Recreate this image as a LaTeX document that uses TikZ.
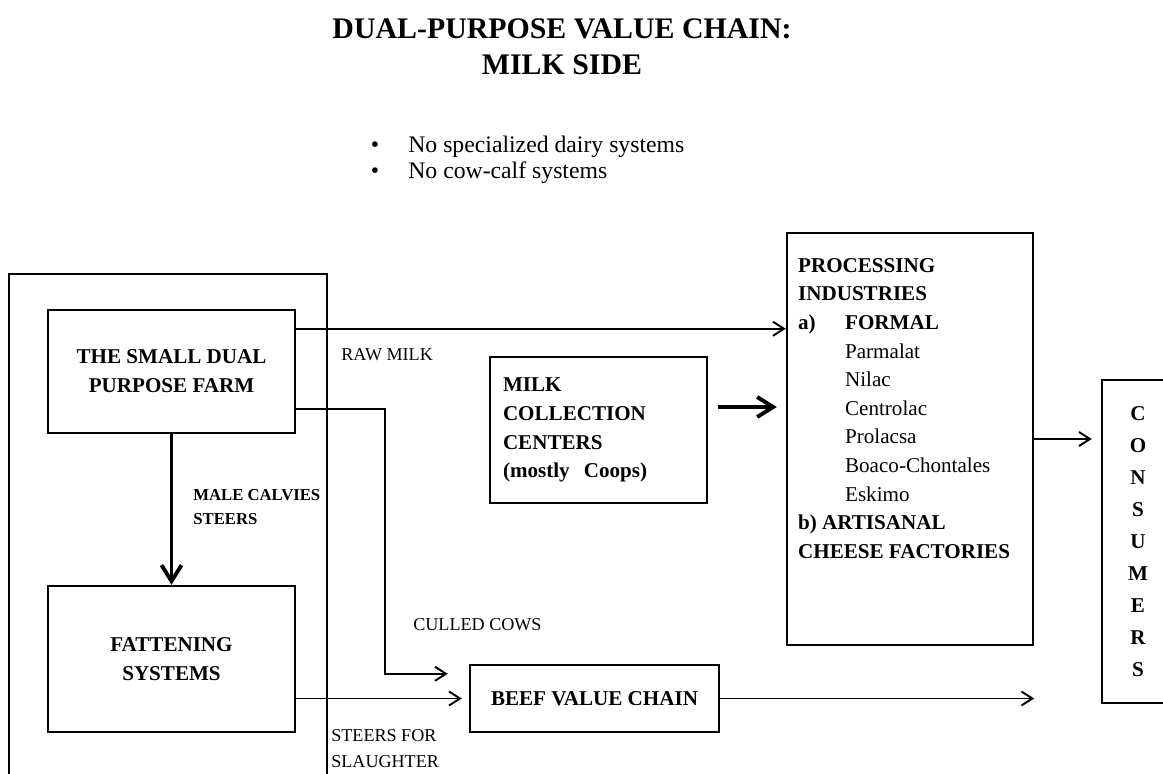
\documentclass[tikz,border=0pt]{standalone}
\usepackage{fontspec}
\setmainfont{Liberation Serif}
\usetikzlibrary{arrows.meta,positioning,calc}
\tikzstyle{box} = [draw, line width=1.4pt, font=\bfseries\fontsize{12}{16.4}\selectfont]
\tikzstyle{lbl} = [font=\fontsize{10.3}{14.7}\selectfont, inner sep=0pt, align=left]
\tikzstyle{arrow} = [line width=1.1pt, -{Straight Barb[length=0.22cm,width=0.28cm]}]
\tikzstyle{bigarrow} = [line width=2.2pt, -{Straight Barb[length=0.32cm,width=0.4cm]}]

\begin{document}
\begin{tikzpicture}[x=0.02cm,y=-0.02cm]
\useasboundingbox (0,0) rectangle (1163,774);
% title and notes
\node (title) at (562,47) [align=center, font=\bfseries\fontsize{17}{20.4}\selectfont] {DUAL-PURPOSE VALUE CHAIN:\\MILK SIDE};
\node (b1) at (375,147) [font=\fontsize{13.5}{16}\selectfont] {\textbullet};
\node (b2) at (375,173) [font=\fontsize{13.5}{16}\selectfont] {\textbullet};
\node (n1) at (408,147) [anchor=west, inner sep=0pt, font=\fontsize{13.5}{16}\selectfont] {No specialized dairy systems};
\node (n2) at (408,173) [anchor=west, inner sep=0pt, font=\fontsize{13.5}{16}\selectfont] {No cow-calf systems};
% farm side
\draw [line width=1.1pt] (9,800) |- (327,274) -- (327,800);
\node (farm) at (171.5,371.5) [box, minimum width=4.94cm, minimum height=2.46cm, align=center] {THE SMALL DUAL\\PURPOSE FARM};
\node (fat) at (171.5,659) [box, minimum width=4.94cm, minimum height=2.92cm, align=center] {FATTENING\\SYSTEMS};
% milk side
\node (mcc) at (598.5,430) [box, text width=3.82cm, inner xsep=0.26cm, minimum height=2.92cm, align=left] {MILK\\COLLECTION\\CENTERS\\(mostly~~Coops)};
\node (proc) at (910,439) [box, minimum width=4.92cm, minimum height=8.24cm] {};
\node (proctxt) at ([xshift=0.24cm,yshift=-0.52cm]proc.north west) [anchor=north west, align=left, inner sep=0pt, font=\bfseries\fontsize{12}{16.3}\selectfont] {PROCESSING\\
INDUSTRIES\\
\makebox[0.94cm][l]{a)}FORMAL\\
\hspace*{0.94cm}{\mdseries Parmalat}\\
\hspace*{0.94cm}{\mdseries Nilac}\\
\hspace*{0.94cm}{\mdseries Centrolac}\\
\hspace*{0.94cm}{\mdseries Prolacsa}\\
\hspace*{0.94cm}{\mdseries Boaco-Chontales}\\
\hspace*{0.94cm}{\mdseries Eskimo}\\
b) ARTISANAL\\
CHEESE FACTORIES};
\node (cons) at (1138,541.5) [box, minimum width=1.44cm, minimum height=6.46cm, align=center, font=\bfseries\fontsize{12}{18.2}\selectfont] {C\\O\\N\\S\\U\\M\\E\\R\\S};
\node (beef) at (594.5,698.5) [box, minimum width=4.98cm, minimum height=1.34cm] {BEEF VALUE CHAIN};
% flows
\draw [bigarrow] (farm) -- (fat);
\draw [arrow] ([yshift=-0.4cm]farm.north east) coordinate (rm) -- (rm -| proc.west);
\draw [arrow] ([yshift=0.5cm]farm.south east) -| ([xshift=-1.68cm,yshift=-0.2cm]beef.north west) -- ([xshift=-0.42cm,yshift=-0.2cm]beef.north west);
\draw [arrow, shorten >=0.14cm] (fat.east |- beef.west) -- (beef.west);
\draw [arrow] (beef.east) -- (beef.east -| proc.east);
\draw [bigarrow, shorten <=0.2cm, shorten >=0.18cm] ([yshift=0.46cm]mcc.east) coordinate (mc) -- (mc -| proc.west);
\draw [arrow, shorten >=0.18cm] (proc.east) -- (proc.east -| cons.west);
% labels
\node (rawlbl) at (341,355) [lbl, anchor=west] {RAW MILK};
\node (malelbl) at (193,507) [lbl, anchor=west, font=\bfseries\fontsize{9.5}{13.6}\selectfont] {MALE CALVIES\\STEERS};
\node (culllbl) at (413,625) [lbl, anchor=west] {CULLED COWS};
\node (slaughlbl) at (331,749) [lbl, anchor=west] {STEERS FOR\\SLAUGHTER};
\end{tikzpicture}
\end{document}
